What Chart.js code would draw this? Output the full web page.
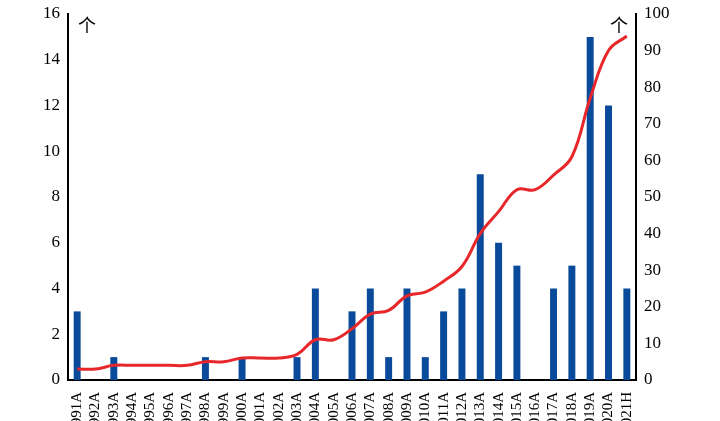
<!DOCTYPE html>
<html><head><meta charset="utf-8">
<script src="https://cdn.jsdelivr.net/npm/chart.js@4"></script>
<style>html,body{margin:0;padding:0;overflow:hidden;background:#fff}#wrap{width:720px;height:421px;overflow:hidden}</style>
</head><body><div id="wrap"><canvas id="c" width="720" height="470"></canvas></div>
<script>
const labels = [];
for (let y = 1991; y <= 2020; y++) labels.push(y + 'A');
labels.push('2021H');
const counts = [3,0,1,0,0,0,0,1,0,1,0,0,1,4,0,3,4,1,4,1,3,4,9,6,5,0,4,5,15,12,4];
const cumulative = [3,3,4,4,4,4,4,5,5,6,6,6,7,11,11,14,18,19,23,24,27,31,40,46,52,52,56,61,77,90,94];

const unitLabels = {
  id: 'unitLabels',
  afterDraw(chart) {
    const ctx = chart.ctx, a = chart.chartArea;
    ctx.save();
    ctx.font = '18px "Noto Sans CJK SC"';
    ctx.fillStyle = '#000';
    ctx.textBaseline = 'top';
    ctx.fillText('个', a.left + 10, a.top + 2);
    ctx.textAlign = 'right';
    ctx.fillText('个', a.right - 8, a.top + 2);
    ctx.restore();
  }
};

new Chart(document.getElementById('c'), {
  data: {
    labels: labels,
    datasets: [
      { type: 'line', data: cumulative, yAxisID: 'y1', borderColor: '#e8272a', borderWidth: 3,
        pointRadius: 0, tension: 0.4, fill: false },
      { type: 'bar', data: counts, yAxisID: 'y', backgroundColor: '#0a4a9a',
        barPercentage: 0.38, categoryPercentage: 1 }
    ]
  },
  options: {
    responsive: false, animation: false,
    layout: { padding: { left: 0, right: 0, top: 14, bottom: 0 } },
    plugins: { legend: { display: false }, tooltip: { enabled: false } },
    scales: {
      x: {
        afterFit(s) { s.height = 90; },
        grid: { display: false, drawTicks: false },
        border: { color: '#000', width: 2 },
        ticks: { color: '#000', font: { family: 'Liberation Serif', size: 15 }, maxRotation: 90, minRotation: 90, autoSkip: false, padding: 12 }
      },
      y: {
        position: 'left', min: 0, max: 16,
        afterFit(s) { s.width = 68; },
        grid: { display: false, drawTicks: true, tickLength: 5, tickColor: '#000' },
        border: { color: '#000', width: 2 },
        ticks: { stepSize: 2, color: '#000', font: { family: 'Liberation Serif', size: 17 } }
      },
      y1: {
        position: 'right', min: 0, max: 100,
        afterFit(s) { s.width = 84; },
        grid: { display: false, drawTicks: true, tickLength: 5, tickColor: '#000' },
        border: { color: '#000', width: 2 },
        ticks: { stepSize: 10, color: '#000', font: { family: 'Liberation Serif', size: 17 } }
      }
    }
  },
  plugins: [unitLabels]
});
</script></body></html>
